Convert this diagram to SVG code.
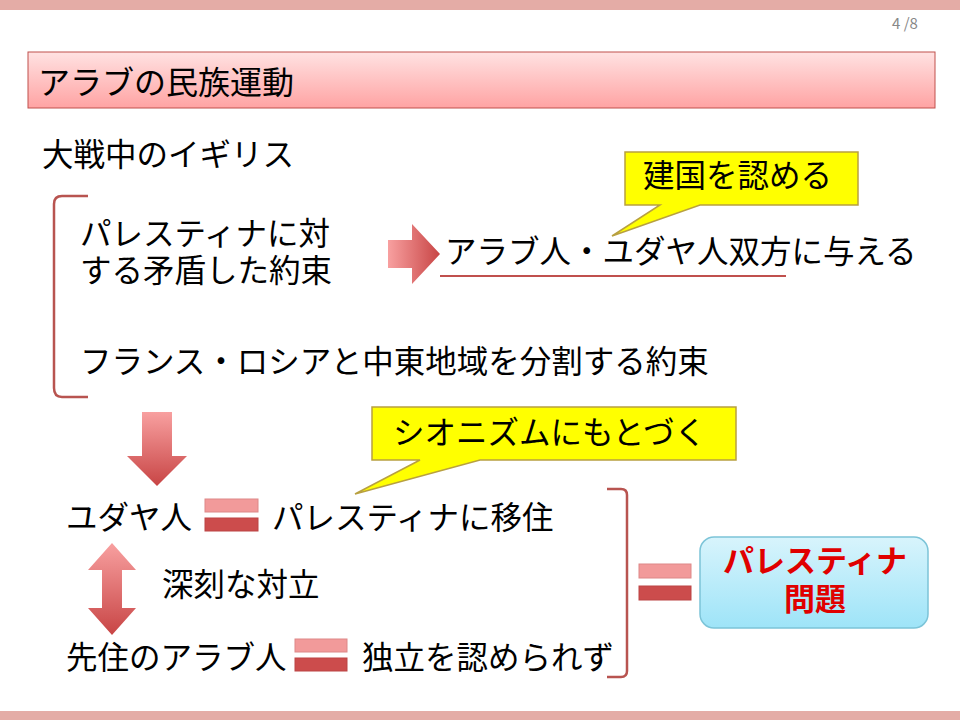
<svg xmlns="http://www.w3.org/2000/svg" width="960" height="720" viewBox="0 0 960 720">
<defs>
<linearGradient id="tg" x1="0" y1="0" x2="0" y2="1"><stop offset="0" stop-color="#ffe2e2"/><stop offset="1" stop-color="#ffa3a3"/></linearGradient>
<linearGradient id="ag" x1="0" y1="0" x2="0" y2="1"><stop offset="0" stop-color="#f8a0a0"/><stop offset="1" stop-color="#c84545"/></linearGradient>
<linearGradient id="ah" x1="0" y1="0" x2="1" y2="0"><stop offset="0" stop-color="#f8a0a0"/><stop offset="1" stop-color="#c84545"/></linearGradient>
<linearGradient id="bg" x1="0" y1="0" x2="0" y2="1"><stop offset="0" stop-color="#d8f4fc"/><stop offset="1" stop-color="#9ee4f8"/></linearGradient>
<style>
text{font-family:"Noto Sans CJK JP","Noto Sans",sans-serif;fill:#000}
.t{font-size:31.5px}
.br{fill:none;stroke:#b85450;stroke-width:2.5}
.c{fill:#ffff00;stroke:#b8a040;stroke-width:1.5}
</style>
</defs>
<rect x="0" y="0" width="960" height="10" fill="#e4aca6"/>
<rect x="0" y="711" width="960" height="9" fill="#e4aca6"/>
<text x="892" y="29" font-size="15" style="fill:#888">4  /8</text>
<g id="title">
<rect x="28" y="52" width="907" height="56" fill="url(#tg)" stroke="#c0504d" stroke-width="1"/>
<text x="38" y="94" font-size="32">アラブの民族運動</text>
</g>
<text class="t" x="42" y="166">大戦中のイギリス</text>
<g id="brackets">
<path class="br" d="M88 196 H62 Q54 196 54 204 V388 Q54 397 62 397 H88"/>
<path class="br" d="M607 489 H621 Q627 489 627 495 V671 Q627 677 621 677 H607"/>
</g>
<g id="promise1">
<text class="t" x="80" y="245">パレスティナに対</text>
<text class="t" x="80" y="282">する矛盾した約束</text>
</g>
<g id="connectors">
<path d="M388 240 H412 V224 L440 254 L412 284 V268 H388 Z" fill="url(#ah)"/>
<path d="M142 412 H172 V456 H187 L157 486 L127 456 H142 Z" fill="url(#ag)"/>
<path d="M112 543 L136 570 H122 V608 H136 L112 635 L88 608 H102 V570 H88 Z" fill="url(#ag)"/>
<line x1="440" y1="276" x2="786" y2="276" stroke="#c0504d" stroke-width="2"/>
</g>
<g id="give"><text class="t" x="445" y="263">アラブ人・ユダヤ人双方に与える</text></g>
<g id="callout1">
<path class="c" d="M625 152 H858 V205 H700 L612 236 L660 205 H625 Z"/>
<text class="t" x="643" y="187">建国を認める</text>
</g>
<g id="promise2"><text class="t" x="80" y="373">フランス・ロシアと中東地域を分割する約束</text></g>
<g id="callout2">
<path class="c" d="M372 407 H736 V460 H480 L355 494 L420 460 H372 Z"/>
<text class="t" x="393" y="444">シオニズムにもとづく</text>
</g>
<g id="jews">
<text class="t" x="66" y="529">ユダヤ人</text>
<rect x="205" y="499" width="53" height="13" fill="#f29a9a" stroke="#d88"/>
<rect x="205" y="518" width="53" height="13" fill="#cc4c4c" stroke="#b44"/>
<text class="t" x="272" y="529">パレスティナに移住</text>
</g>
<g id="conflict"><text class="t" x="162" y="596">深刻な対立</text></g>
<g id="arabs">
<text class="t" x="66" y="669">先住のアラブ人</text>
<rect x="295" y="639" width="52" height="13" fill="#f29a9a" stroke="#d88"/>
<rect x="295" y="658" width="52" height="13" fill="#cc4c4c" stroke="#b44"/>
<text class="t" x="362" y="669">独立を認められず</text>
</g>
<g id="eq3">
<rect x="639" y="564" width="52" height="14" fill="#f29a9a" stroke="#d88"/>
<rect x="639" y="586" width="52" height="14" fill="#cc4c4c" stroke="#b44"/>
</g>
<g id="problem">
<rect x="700" y="537" width="228" height="91" rx="14" fill="url(#bg)" stroke="#7cc4d8" stroke-width="1.5"/>
<text x="815" y="572" font-size="31" font-weight="bold" text-anchor="middle" style="fill:#e00000">パレスティナ</text>
<text x="815" y="610" font-size="31" font-weight="bold" text-anchor="middle" style="fill:#e00000">問題</text>
</g>
</svg>
